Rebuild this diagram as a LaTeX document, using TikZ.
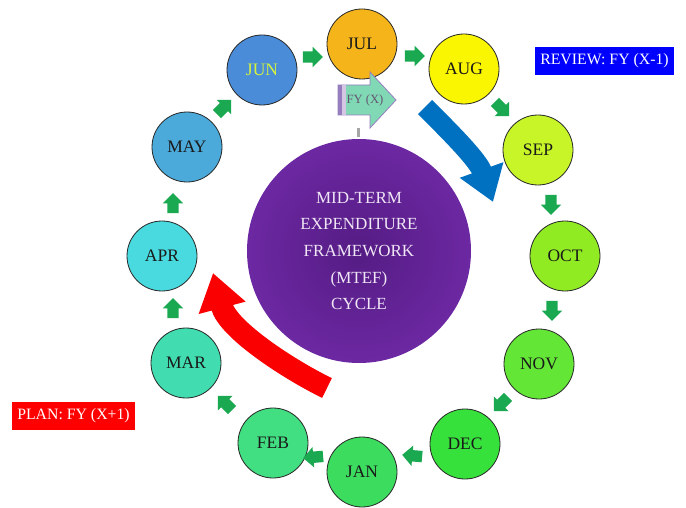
\documentclass[tikz,border=0pt]{standalone}
\usepackage{fontspec}
\setmainfont{Liberation Serif}
\usetikzlibrary{arrows.meta,shapes.arrows}
\definecolor{cJUL}{RGB}{245,180,25}
\definecolor{cAUG}{RGB}{250,245,0}
\definecolor{cSEP}{RGB}{200,245,40}
\definecolor{cOCT}{RGB}{145,235,35}
\definecolor{cNOV}{RGB}{100,230,55}
\definecolor{cDEC}{RGB}{55,225,60}
\definecolor{cJAN}{RGB}{60,220,95}
\definecolor{cFEB}{RGB}{65,222,130}
\definecolor{cMAR}{RGB}{65,220,175}
\definecolor{cAPR}{RGB}{72,218,222}
\definecolor{cMAY}{RGB}{75,170,218}
\definecolor{cJUN}{RGB}{74,140,216}
\definecolor{junText}{RGB}{212,242,60}
\definecolor{agreen}{RGB}{26,168,80}
\definecolor{bluearr}{RGB}{0,112,192}
\definecolor{redarr}{RGB}{250,0,0}
\definecolor{purpIn}{RGB}{85,28,132}
\definecolor{purpOut}{RGB}{108,40,162}
\definecolor{lav}{RGB}{240,230,245}
\definecolor{mint}{RGB}{128,217,180}
\definecolor{fyline}{RGB}{150,125,190}
\definecolor{fytext}{RGB}{100,85,115}
\begin{document}
\begin{tikzpicture}[x=1pt,y=-1pt,
  month/.style={circle, draw=black!85, line width=0.8pt, minimum size=70pt, inner sep=0pt,
    font=\fontsize{17.5}{20}\selectfont, text=black!90},
  smallarr/.style={single arrow, fill=agreen, draw=none, minimum height=20pt,
    inner xsep=0pt, inner ysep=5.5pt, single arrow head extend=4.5pt, font=\fontsize{1}{1}\selectfont},
  tagbox/.style={rectangle, inner sep=0pt, minimum height=28pt, text=white,
    font=\fontsize{15.8}{18}\selectfont},
  bigarrow/.style={line width=#1}
]
\useasboundingbox (0,0) rectangle (686,508);
\fill[white] (0,0) rectangle (686,508);

% gray tick
\node[rectangle, fill=gray!70, minimum width=3pt, minimum height=9pt, inner sep=0pt] (tick) at (358.5,133) {};

% central circle
\node[circle, minimum size=224pt, inner sep=0pt, shade, inner color=purpIn, outer color=purpOut,
  text=lav, align=center, font=\fontsize{17}{26.6}\selectfont] (mtef) at (359,251)
  {MID-TERM\\EXPENDITURE\\FRAMEWORK\\(MTEF)\\CYCLE};

% month circles
\node[month, fill=cJUL] (jul) at (362,44) {JUL};
\node[month, fill=cAUG] (aug) at (464,69) {AUG};
\node[month, fill=cSEP] (sep) at (538,150) {SEP};
\node[month, fill=cOCT] (oct) at (565,256) {OCT};
\node[month, fill=cNOV] (nov) at (539,364) {NOV};
\node[month, fill=cDEC] (dec) at (465,444) {DEC};
\node[month, fill=cJAN] (jan) at (362,472) {JAN};
\node[month, fill=cFEB] (feb) at (273,443) {FEB};
\node[month, fill=cMAR] (mar) at (186,363) {MAR};
\node[month, fill=cAPR] (apr) at (162,256) {APR};
\node[month, fill=cMAY] (may) at (187,147) {MAY};
\node[month, fill=cJUN, text=junText] (jun) at (262,70) {JUN};

% small green arrows
\node[smallarr, rotate=0]    (a1)  at (310,57)  {};
\node[smallarr, rotate=0]    (a2)  at (412,56)  {};
\node[smallarr, rotate=-45]  (a3)  at (500,107) {};
\node[smallarr, rotate=-90]  (a4)  at (551,202) {};
\node[smallarr, rotate=-90]  (a5)  at (552,308) {};
\node[smallarr, rotate=-135] (a6)  at (503,402) {};
\node[smallarr, rotate=175]  (a7)  at (415,456) {};
\node[smallarr, rotate=185]  (a8)  at (316,457) {};
\node[smallarr, rotate=135]  (a9)  at (227,405) {};
\node[smallarr, rotate=90]   (a10) at (173,311) {};
\node[smallarr, rotate=90]   (a11) at (173,206) {};
\node[smallarr, rotate=45]   (a12) at (222,109) {};

% big curved arrows
\coordinate (bs) at (425,107);
\coordinate (bt) at (493,202);
\draw[bigarrow=20pt, bluearr, -{Triangle[width=44pt,length=34pt]}]
  (bs) .. controls (450,132) and (478,160) .. (bt);
\coordinate (rs) at (327,388);
\coordinate (rt) at (213,273);
\draw[bigarrow=22pt, redarr, -{Triangle[width=46pt,length=36pt]}]
  (rs) .. controls (290,370) and (228,330) .. (rt);

% FY (X) block arrow
\filldraw[fill=mint, draw=fyline, line width=0.8pt]
  (338,85) -- (370,85) -- (370,72) -- (396,100) -- (370,128) -- (370,115) -- (338,115) -- cycle;
\fill[fyline] (338,85) rectangle (342,115);
\fill[lav!70!fyline] (342,85) rectangle (346,115);
\node[text=fytext, font=\fontsize{12.6}{14}\selectfont, inner sep=0pt] (fy) at (365,100) {FY (X)};

% tags
\node[tagbox, fill=blue, minimum width=139pt] (review) at (604.5,61) {REVIEW: FY (X-1)};
\node[tagbox, fill=red, minimum width=123pt] (plan) at (73.5,416) {PLAN: FY (X+1)};
\end{tikzpicture}
\end{document}
